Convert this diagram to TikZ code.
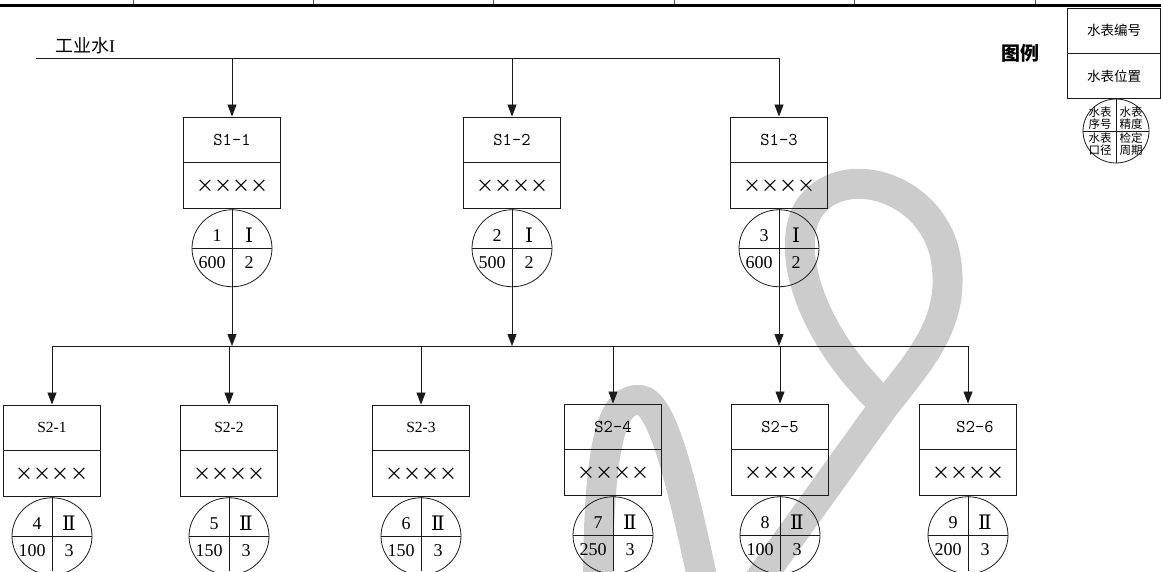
\documentclass[tikz,border=0pt]{standalone}
\usepackage{fontspec}
\usetikzlibrary{arrows.meta,positioning,shapes.geometric,calc}
\setmainfont{Liberation Serif}
\newfontfamily\cjk{Noto Sans CJK SC}
\newfontfamily\romanfont{DejaVu Serif}
\definecolor{ink}{HTML}{1A1A1A}
\definecolor{tick}{HTML}{555555}
\definecolor{wmark}{HTML}{CCCCCC}
\newcommand{\px}[1]{\fontsize{#1pt}{#1pt}\selectfont}
\tikzset{
  idtt/.style={draw=ink,line width=0.9pt,minimum width=97pt,minimum height=45pt,inner sep=0pt,font=\px{18}\ttfamily},
  idrm/.style={draw=ink,line width=0.9pt,minimum width=97pt,minimum height=45pt,inner sep=0pt,font=\px{15.5}},
  posbox/.style={draw=ink,line width=0.9pt,minimum width=97pt,minimum height=46pt,inner sep=0pt,font=\px{18}\cjk},
  dial/.style={draw=ink,line width=0.8pt,ellipse,minimum width=80pt,minimum height=77pt,inner sep=0pt},
  dialtxt/.style={inner sep=0pt,font=\px{18}},
  flow/.style={-{Triangle[length=12pt,width=9pt]},line width=0.8pt,draw=ink},
  pipe/.style={line width=0.8pt,draw=ink},
  legbox/.style={draw=ink,line width=0.8pt,minimum width=93pt,minimum height=45pt,inner sep=0pt,font=\px{13.5}\cjk},
  legtxt/.style={inner sep=0pt,font=\px{11.5}\cjk,align=center},
  wm/.style={draw=wmark,line width=30pt}
}
% one meter: box with number and place, dial below
\newcommand{\meter}[9]{%
  \node[#5] (#1) at (#2,#3) {#4};
  \node[posbox,below=0pt of #1] (#1p) {××××};
  \node[dial,below=0pt of #1p] (#1c) {};
  \draw[pipe] (#1c.west) -- (#1c.east);
  \node[dialtxt] at ($(#1c.center)+(-15,-13)$) {#6};
  \node[dialtxt,font=\px{20}\romanfont] at ($(#1c.center)+(17,-13)$) {#7};
  \node[dialtxt] at ($(#1c.center)+(-20,14)$) {#8};
  \node[dialtxt] at ($(#1c.center)+(17,14)$) {#9};
}

\begin{document}
\begin{tikzpicture}[x=1pt,y=-1pt]
  \useasboundingbox (0,0) rectangle (1161,571);
  % watermark
  \draw[wm] (752,590) -- (885,405) .. controls (920,360) and (958,320) .. (945,255)
    .. controls (930,185) and (840,160) .. (808,210) .. controls (785,250) and (810,335) .. (885,405);
  \draw[wm] (598,590) .. controls (598,430) and (615,398) .. (640,400) .. controls (665,402) and (685,500) .. (705,590);

  % header rule
  \coordinate (hdrL) at (0,5);
  \coordinate (hdrR) at (1161,5);
  \draw[line width=3pt] (hdrL) -- (hdrR);
  \foreach \t in {133,313,493,674,854,1035}
    \draw[tick,line width=0.8pt] (\t,0) -- (\t,4);

  % supply main
  \coordinate (mainL) at (36,58);
  \coordinate (mainR) at (779,58);
  \draw[pipe] (mainL) -- (mainR);
  \node[font=\px{18}] (supply) at (85,46) {{\cjk 工业水}I};

  % first level
  \meter{s11}{232}{139.5}{S1-1}{idtt}{1}{Ⅰ}{600}{2}
  \meter{s12}{512}{139.5}{S1-2}{idtt}{2}{Ⅰ}{500}{2}
  \meter{s13}{779}{139.5}{S1-3}{idtt}{3}{Ⅰ}{600}{2}
  \foreach \m in {s11,s12,s13}
    \draw[flow] (\m.north |- mainL) -- (\m.north);

  % branch bar
  \coordinate (barL) at (52,346);
  \coordinate (barR) at (969,346);
  \draw[pipe] (barL) -- (barR);
  \foreach \m in {s11,s12,s13}
    \draw[flow] (\m p.south) -- (\m p.south |- barL);

  % second level
  \meter{s21}{52}{427.5}{S2-1}{idrm}{4}{Ⅱ}{100}{3}
  \meter{s22}{229}{427.5}{S2-2}{idrm}{5}{Ⅱ}{150}{3}
  \meter{s23}{421}{427.5}{S2-3}{idrm}{6}{Ⅱ}{150}{3}
  \meter{s24}{613}{426.5}{S2-4}{idtt}{7}{Ⅱ}{250}{3}
  \meter{s25}{780}{426.5}{S2-5}{idtt}{8}{Ⅱ}{100}{3}
  \meter{s26}{968}{426.5}{\hspace*{14pt}S2-6}{idtt}{9}{Ⅱ}{200}{3}
  \coordinate (base) at (0,571);
  \foreach \m in {s21,s22,s23,s24,s25,s26} {
    \draw[flow] (\m.north |- barL) -- (\m.north);
    \draw[pipe] (\m p.south) -- (\m p.south |- base);
  }

  % legend
  \node[font=\px{19}\cjk\bfseries] (legtitle) at (1020,53) {图例};
  \node[legbox] (legid) at (1114,30.5) {水表编号};
  \node[legbox,below=0pt of legid] (legpos) {水表位置};
  \node[dial,minimum width=66pt,minimum height=64pt] (legc) at (1116,131) {};
  \draw[pipe] (legc.west) -- (legc.east);
  \draw[pipe] (legc.north) -- (legc.south);
  \node[legtxt] at (1100,118) {水表\\序号};
  \node[legtxt] at (1131,118) {水表\\精度};
  \node[legtxt] at (1100,144) {水表\\口径};
  \node[legtxt] at (1131,144) {检定\\周期};
\end{tikzpicture}
\end{document}
